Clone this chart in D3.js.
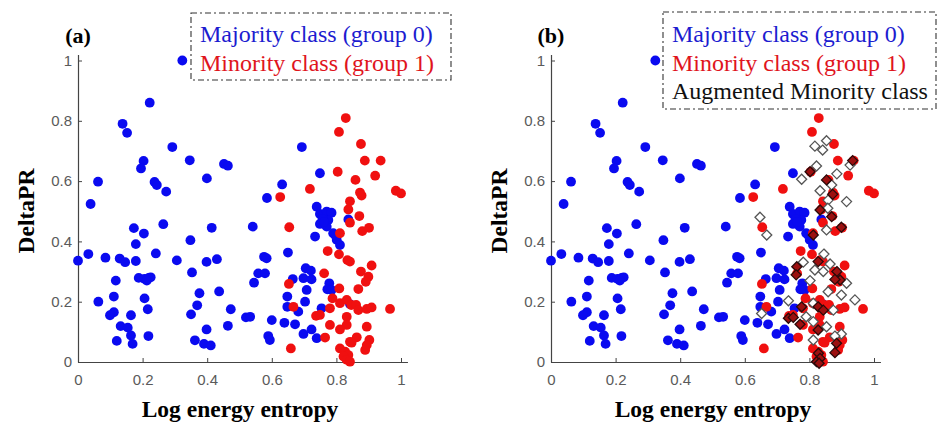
<!DOCTYPE html>
<html>
<head>
<meta charset="utf-8">
<script src="https://cdn.jsdelivr.net/npm/d3@7"></script>
<style>
  body { margin: 0; background: #fff; }
  .tick text { font-family: "Liberation Sans", Arial, sans-serif; font-size: 15px; fill: #5a5a5a; }
</style>
</head>
<body>
<div id="chart"></div>
<script>
// majority class (group 0), [entropy, deltaPR]
const majorityPts = [
  [0.323,1.0],[0.222,0.86],[0.138,0.79],[0.152,0.76],[0.292,0.713],[0.203,0.667],[0.195,0.642],[0.346,0.669],
  [0.452,0.657],[0.464,0.651],[0.399,0.609],[0.062,0.598],[0.237,0.597],[0.244,0.587],[0.273,0.565],[0.039,0.524],
  [0.173,0.444],[0.204,0.426],[0.264,0.457],[0.414,0.445],[0.348,0.404],[0.179,0.391],[0.0,0.336],[0.032,0.358],
  [0.085,0.346],[0.129,0.343],[0.146,0.331],[0.179,0.335],[0.241,0.36],[0.306,0.337],[0.398,0.332],[0.430,0.341],
  [0.353,0.297],[0.188,0.279],[0.206,0.276],[0.219,0.279],[0.225,0.281],[0.213,0.270],[0.117,0.270],[0.376,0.228],
  [0.437,0.234],[0.063,0.2],[0.111,0.217],[0.206,0.211],[0.216,0.175],[0.111,0.165],[0.099,0.155],[0.164,0.155],
  [0.369,0.188],[0.350,0.158],[0.473,0.175],[0.132,0.119],[0.154,0.114],[0.164,0.088],[0.169,0.06],[0.120,0.070],
  [0.218,0.086],[0.398,0.108],[0.464,0.120],[0.362,0.072],[0.390,0.060],[0.411,0.055],[0.520,0.148],[0.533,0.150],
  [0.693,0.713],[0.749,0.626],[0.632,0.589],[0.585,0.544],
  [0.739,0.515],[0.749,0.491],[0.770,0.499],[0.785,0.495],[0.775,0.471],[0.749,0.458],[0.770,0.449],[0.734,0.416],
  [0.790,0.427],[0.801,0.405],[0.811,0.388],[0.757,0.475],[0.762,0.465],[0.837,0.473],[0.541,0.449],[0.796,0.421],
  [0.650,0.363],[0.576,0.349],[0.584,0.344],[0.558,0.294],[0.579,0.294],[0.545,0.263],
  [0.705,0.311],[0.721,0.303],[0.698,0.278],[0.723,0.274],[0.665,0.275],[0.778,0.261],[0.772,0.241],[0.785,0.239],
  [0.708,0.239],[0.648,0.217],[0.703,0.2],[0.648,0.183],[0.754,0.178],[0.842,0.192],[0.682,0.167],
  [0.600,0.139],[0.639,0.130],[0.672,0.125],[0.589,0.086],[0.594,0.073],[0.698,0.093],[0.723,0.108],[0.739,0.079]
];

// minority class (group 1)
const minorityPts = [
  [0.829,0.809],[0.808,0.763],[0.876,0.723],[0.888,0.668],[0.937,0.668],[0.804,0.631],[0.920,0.618],[0.859,0.604],
  [0.718,0.574],[0.873,0.562],[0.878,0.552],[0.984,0.568],[1.0,0.559],[0.626,0.547],[0.842,0.533],[0.837,0.506],
  [0.871,0.484],[0.842,0.462],[0.880,0.434],[0.901,0.445],[0.654,0.447],[0.811,0.427],
  [0.773,0.368],[0.808,0.357],[0.834,0.338],[0.842,0.333],[0.909,0.320],[0.876,0.300],[0.899,0.283],[0.891,0.266],
  [0.762,0.294],[0.653,0.259],[0.809,0.244],[0.868,0.242],[0.788,0.211],[0.811,0.195],[0.832,0.206],[0.846,0.189],
  [0.861,0.189],[0.868,0.172],[0.780,0.178],[0.894,0.176],[0.909,0.181],[0.966,0.176],[0.667,0.183],[0.737,0.153],
  [0.749,0.156],[0.832,0.150],[0.780,0.123],[0.832,0.123],[0.811,0.108],[0.894,0.117],[0.765,0.081],[0.842,0.067],
  [0.863,0.082],[0.847,0.064],[0.902,0.073],[0.894,0.056],[0.889,0.040],[0.659,0.045],[0.811,0.045],[0.827,0.034],
  [0.837,0.023],[0.822,0.018],[0.832,0.007],[0.842,0.001]
];

// augmented minority samples, panel (b) only
const augHollow = [
  [0.817,0.716],[0.853,0.734],[0.841,0.703],[0.926,0.653],[0.822,0.650],[0.776,0.606],[0.885,0.624],[0.869,0.587],
  [0.833,0.568],[0.915,0.532],[0.858,0.537],[0.857,0.510],[0.647,0.480],[0.668,0.421],[0.853,0.438],[0.845,0.358],
  [0.781,0.331],[0.864,0.325],[0.817,0.305],[0.843,0.300],[0.915,0.261],[0.802,0.270],[0.858,0.233],[0.899,0.222],
  [0.735,0.203],[0.941,0.206],[0.874,0.172],[0.652,0.161],[0.790,0.150],[0.812,0.134],[0.853,0.117],[0.899,0.093],
  [0.879,0.086],[0.812,0.073],[0.812,0.195]
];
const augFilled = [
  [0.934,0.668],[0.802,0.631],[0.853,0.604],[0.872,0.556],[0.833,0.504],[0.869,0.482],[0.899,0.447],[0.812,0.421],
  [0.827,0.333],[0.761,0.316],[0.759,0.289],[0.885,0.300],[0.895,0.272],[0.879,0.274],[0.776,0.183],[0.827,0.183],
  [0.843,0.172],[0.735,0.145],[0.750,0.148],[0.771,0.125],[0.827,0.106],[0.884,0.062],[0.879,0.031],[0.828,0.029],
  [0.833,0.012],[0.822,0.001],[0.830,-0.004]
];

const xTicks = [0, 0.2, 0.4, 0.6, 0.8, 1];
const yTicks = [0, 0.2, 0.4, 0.6, 0.8, 1];
const legendA = ["Majority class (group 0)", "Minority class (group 1)"];
const legendB = ["Majority class (group 0)", "Minority class (group 1)", "Augmented Minority class"];
const legendColors = ["#1c1cd0", "#e0141c", "#111"];

const width = 938, height = 425;
const BLUE = "#0a0af0", RED = "#f01010";
const serif = "'Liberation Serif', 'Times New Roman', serif";

const svg = d3.select("#chart").append("svg")
  .attr("width", width)
  .attr("height", height);

function diamond(r) {
  return "M0," + (-r) + "L" + r + ",0L0," + r + "L" + (-r) + ",0Z";
}

function panel(x0, label, legend, box, withAug) {
  const x = d3.scaleLinear().domain([0, 1.02]).range([x0, x0 + 323 * 1.02]);
  const y = d3.scaleLinear().domain([0, 1.02]).range([362, 362 - 301.5 * 1.02]);
  const g = svg.append("g");

  const xAxis = g.append("g")
    .attr("transform", "translate(0,362)")
    .call(d3.axisBottom(x).tickValues(xTicks).tickFormat(d3.format("~g"))
      .tickSizeInner(-4).tickSizeOuter(0).tickPadding(12));
  const yAxis = g.append("g")
    .attr("transform", "translate(" + x0 + ",0)")
    .call(d3.axisLeft(y).tickValues(yTicks).tickFormat(d3.format("~g"))
      .tickSizeInner(-4).tickSizeOuter(0).tickPadding(6));
  [xAxis, yAxis].forEach(a => {
    a.select(".domain").attr("stroke", "#444").attr("stroke-width", 1.2);
    a.selectAll(".tick line").attr("stroke", "#444");
  });

  g.append("g").selectAll("circle.maj")
    .data(majorityPts)
    .enter().append("circle")
    .attr("cx", d => x(d[0])).attr("cy", d => y(d[1]))
    .attr("r", 4.9).attr("fill", BLUE);

  g.append("g").selectAll("circle.min")
    .data(minorityPts)
    .enter().append("circle")
    .attr("cx", d => x(d[0])).attr("cy", d => y(d[1]))
    .attr("r", 4.9).attr("fill", RED);

  if (withAug) {
    g.append("g").selectAll("path.hol")
      .data(augHollow)
      .enter().append("path")
      .attr("d", diamond(5))
      .attr("transform", d => "translate(" + x(d[0]) + "," + y(d[1]) + ")")
      .attr("fill", "#fff").attr("stroke", "#555").attr("stroke-width", 1.3);
    g.append("g").selectAll("path.fil")
      .data(augFilled)
      .enter().append("path")
      .attr("d", diamond(5))
      .attr("transform", d => "translate(" + x(d[0]) + "," + y(d[1]) + ")")
      .attr("fill", "#9c1010").attr("stroke", "#2a0a0a").attr("stroke-width", 1.3);
  }

  // panel label and axis titles
  g.append("text")
    .attr("x", x0).attr("y", 43)
    .attr("text-anchor", "middle")
    .style("font-family", serif)
    .style("font-weight", "bold").style("font-size", "22px")
    .text(label);

  g.append("text")
    .attr("x", x0 + 162).attr("y", 417)
    .attr("text-anchor", "middle")
    .style("font-family", serif)
    .style("font-weight", "bold").style("font-size", "23.5px")
    .text("Log energy entropy");

  g.append("text")
    .attr("transform", "translate(" + (x0 - 44) + ",211) rotate(-90)")
    .attr("text-anchor", "middle")
    .style("font-family", serif)
    .style("font-weight", "bold").style("font-size", "23.5px")
    .text("DeltaPR");

  // legend
  g.append("rect")
    .attr("x", box[0]).attr("y", box[1])
    .attr("width", box[2]).attr("height", box[3])
    .attr("fill", "#fff").attr("stroke", "#333")
    .attr("stroke-width", 1.1).attr("stroke-dasharray", "6,3,2,3");

  g.append("g").selectAll("text")
    .data(legend)
    .enter().append("text")
    .attr("x", box[0] + 9)
    .attr("y", (d, i) => 42 + i * 28.5)
    .attr("fill", (d, i) => legendColors[i])
    .style("font-family", serif)
    .style("font-size", "24px")
    .text(d => d);
}

panel(78, "(a)", legendA, [191, 13, 260, 67], false);
panel(551, "(b)", legendB, [663, 12, 273, 97], true);
</script>
</body>
</html>
